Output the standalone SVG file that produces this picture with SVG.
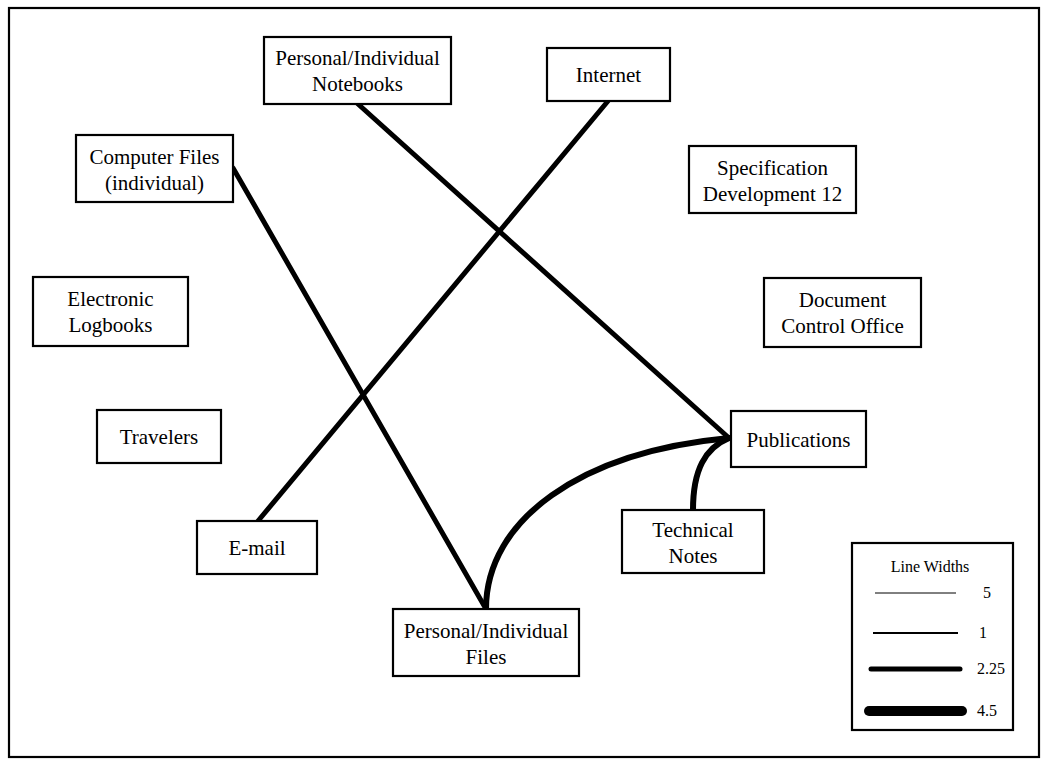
<svg xmlns="http://www.w3.org/2000/svg" width="1042" height="760" viewBox="0 0 1042 760">
<style>
.box{fill:#fff;stroke:#000;stroke-width:2.2}
.t{font-family:"Liberation Serif","Times New Roman",serif;font-size:21px;fill:#000;text-anchor:middle}
.lt{font-family:"Liberation Serif","Times New Roman",serif;font-size:16px;fill:#000}
.c{fill:none;stroke:#000;stroke-width:5;stroke-linecap:round}
.cc{fill:none;stroke:#000;stroke-width:6;stroke-linecap:round}
</style>
<rect x="0" y="0" width="1042" height="760" fill="#fff"/>
<rect x="9" y="8" width="1030" height="749" fill="none" stroke="#000" stroke-width="2.2"/>
<g id="connectors">
<line class="c" x1="233" y1="168" x2="486" y2="609"/>
<line class="c" x1="358" y1="104" x2="729" y2="438"/>
<line class="c" x1="608" y1="101" x2="258" y2="521"/>
<path class="cc" d="M486,609 C486,520 580,452 729,438"/>
<path class="cc" d="M693,510 C693,470 705,448 729,438"/>
</g>
<g id="notebooks"><rect class="box" x="264" y="37" width="187" height="67"/><text class="t" x="357.5" y="65">Personal/Individual</text><text class="t" x="357.5" y="91">Notebooks</text></g>
<g id="internet"><rect class="box" x="547" y="48" width="123" height="53"/><text class="t" x="608.5" y="82">Internet</text></g>
<g id="computer-files"><rect class="box" x="76" y="135" width="157" height="67"/><text class="t" x="154.5" y="164">Computer Files</text><text class="t" x="154.5" y="190">(individual)</text></g>
<g id="spec-dev"><rect class="box" x="689" y="146" width="167" height="67"/><text class="t" x="772.5" y="175">Specification</text><text class="t" x="772.5" y="201">Development 12</text></g>
<g id="e-logbooks"><rect class="box" x="33" y="277" width="155" height="69"/><text class="t" x="110.5" y="306">Electronic</text><text class="t" x="110.5" y="332">Logbooks</text></g>
<g id="doc-control"><rect class="box" x="764" y="278" width="157" height="69"/><text class="t" x="842.5" y="307">Document</text><text class="t" x="842.5" y="333">Control Office</text></g>
<g id="travelers"><rect class="box" x="97" y="410" width="124" height="53"/><text class="t" x="159" y="444">Travelers</text></g>
<g id="publications"><rect class="box" x="731" y="411" width="135" height="56"/><text class="t" x="798.5" y="447">Publications</text></g>
<g id="tech-notes"><rect class="box" x="622" y="510" width="142" height="63"/><text class="t" x="693" y="537">Technical</text><text class="t" x="693" y="563">Notes</text></g>
<g id="email"><rect class="box" x="197" y="521" width="120" height="53"/><text class="t" x="257" y="555">E-mail</text></g>
<g id="pi-files"><rect class="box" x="393" y="609" width="186" height="67"/><text class="t" x="486" y="638">Personal/Individual</text><text class="t" x="486" y="664">Files</text></g>
<g id="legend">
<rect class="box" x="852" y="543" width="161" height="187"/>
<text class="lt" x="930" y="572" text-anchor="middle">Line Widths</text>
<line x1="875" y1="593" x2="956" y2="593" stroke="#000" stroke-width="1"/>
<text class="lt" x="983" y="598" font-size="15">5</text>
<line x1="873" y1="633" x2="958" y2="633" stroke="#000" stroke-width="2"/>
<text class="lt" x="979" y="638" font-size="15">1</text>
<line x1="871" y1="669" x2="960" y2="669" stroke="#000" stroke-width="5" stroke-linecap="round"/>
<text class="lt" x="977" y="674" font-size="15">2.25</text>
<line x1="869" y1="711" x2="962" y2="711" stroke="#000" stroke-width="10" stroke-linecap="round"/>
<text class="lt" x="977" y="716" font-size="15">4.5</text>
</g>
</svg>
